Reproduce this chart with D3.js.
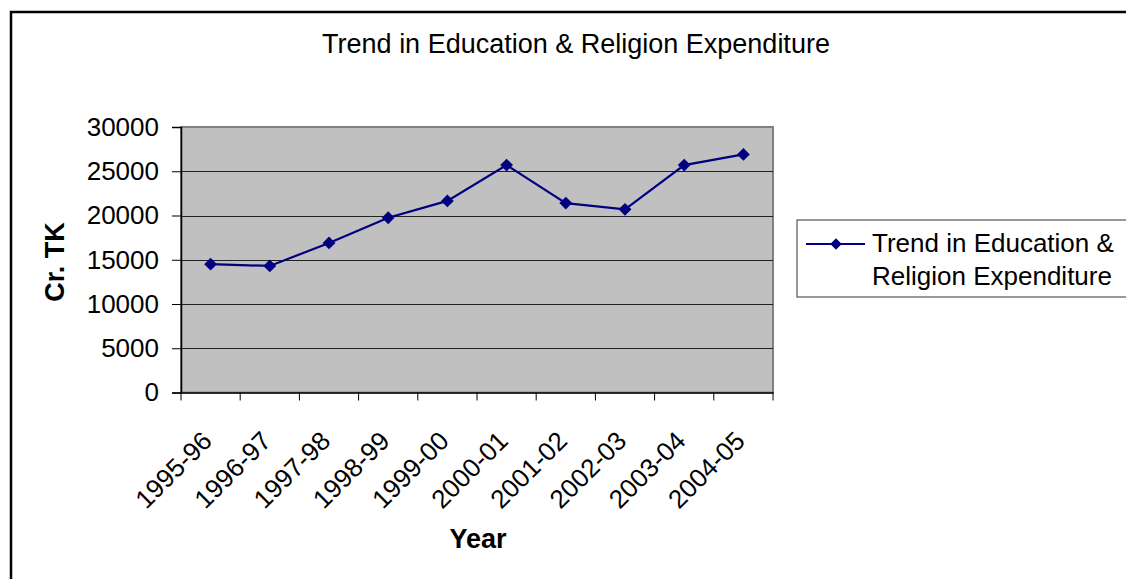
<!DOCTYPE html>
<html>
<head>
<meta charset="utf-8">
<script src="https://cdnjs.cloudflare.com/ajax/libs/d3/7.8.5/d3.min.js"></script>
<style>
  html, body { margin: 0; padding: 0; background: #fff; }
  svg { display: block; font-family: "Liberation Sans", Arial, sans-serif; }
</style>
</head>
<body>
<svg id="chart" width="1126" height="579"></svg>
<script>
// Fiscal years
const years = ["1995-96", "1996-97", "1997-98", "1998-99", "1999-00",
               "2000-01", "2001-02", "2002-03", "2003-04", "2004-05"];
// Education & religion expenditure, crore taka
const expenditure = [14500, 14300, 16900, 19750, 21650,
                     25700, 21400, 20700, 25700, 26900];
const yTicks = [0, 5000, 10000, 15000, 20000, 25000, 30000];
const seriesName = "Trend in Education & Religion Expenditure";
const legendLines = ["Trend in Education &", "Religion Expenditure"];

const svg = d3.select("#chart");

// outer frame of the chart area
svg.append("rect")
  .attr("x", 11).attr("y", 12)
  .attr("width", 1300).attr("height", 1000)
  .attr("fill", "none").attr("stroke", "#000").attr("stroke-width", 2.5);

const plot = { left: 181, top: 127, right: 773, bottom: 392.5 };

const x = d3.scaleBand().domain(years).range([plot.left, plot.right]).padding(0);
const y = d3.scaleLinear().domain([0, 30000]).range([plot.bottom, plot.top]);

// plot background
svg.append("rect")
  .attr("x", plot.left).attr("y", plot.top)
  .attr("width", plot.right - plot.left).attr("height", plot.bottom - plot.top)
  .attr("fill", "#c0c0c0").attr("stroke", "#808080").attr("stroke-width", 2);

// horizontal gridlines
svg.append("g")
  .selectAll("line")
  .data(yTicks.filter(d => d > 0 && d < 30000))
  .join("line")
  .attr("x1", plot.left).attr("x2", plot.right)
  .attr("y1", d => Math.round(y(d)) + 0.5).attr("y2", d => Math.round(y(d)) + 0.5)
  .attr("stroke", "#222").attr("stroke-width", 1);

// y axis
const yAxis = svg.append("g")
  .attr("transform", `translate(${plot.left},0)`)
  .call(d3.axisLeft(y).tickValues(yTicks).tickFormat(d3.format("d")).tickSize(9).tickPadding(13));
yAxis.select(".domain").attr("stroke", "#000").attr("stroke-width", 1.5);
yAxis.selectAll(".tick line").attr("stroke", "#000");
yAxis.selectAll(".tick text")
  .attr("font-size", 26).attr("fill", "#000")
  .attr("font-family", "Liberation Sans, Arial, sans-serif");

// x axis with ticks at category boundaries
const xAxis = svg.append("g")
  .attr("transform", `translate(0,${plot.bottom})`)
  .call(d3.axisBottom(x).tickSize(0).tickFormat(""));
xAxis.select(".domain").attr("stroke", "#000").attr("stroke-width", 1.5);
const boundaries = years.map(d => x(d)).concat([x(years[years.length - 1]) + x.bandwidth()]);
xAxis.selectAll("line.bound")
  .data(boundaries)
  .join("line")
  .attr("class", "bound")
  .attr("x1", d => d).attr("x2", d => d)
  .attr("y1", 0).attr("y2", 8)
  .attr("stroke", "#000").attr("stroke-width", 1);

// rotated category labels
svg.append("g")
  .selectAll("text")
  .data(years)
  .join("text")
  .attr("transform", d => `translate(${x(d) + x.bandwidth() / 2 + 3},${plot.bottom + 50}) rotate(-45)`)
  .attr("text-anchor", "end")
  .attr("font-size", 26)
  .attr("fill", "#000")
  .text(d => d);

// series line
const line = d3.line()
  .x((d, i) => x(years[i]) + x.bandwidth() / 2)
  .y(d => y(d));
svg.append("path")
  .datum(expenditure)
  .attr("d", line)
  .attr("fill", "none")
  .attr("stroke", "#000080")
  .attr("stroke-width", 2.2);

// diamond markers
const diamond = d3.symbol().type(d3.symbolDiamond2).size(105);
svg.append("g")
  .selectAll("path")
  .data(expenditure)
  .join("path")
  .attr("transform", (d, i) => `translate(${x(years[i]) + x.bandwidth() / 2},${y(d)})`)
  .attr("d", diamond)
  .attr("fill", "#000080");

// title
svg.append("text")
  .attr("x", 576).attr("y", 53)
  .attr("text-anchor", "middle")
  .attr("font-size", 27)
  .text(seriesName);

// axis titles
svg.append("text")
  .attr("x", (plot.left + plot.right) / 2 + 1).attr("y", 548)
  .attr("text-anchor", "middle")
  .attr("font-size", 27).attr("font-weight", "bold")
  .text("Year");

svg.append("text")
  .attr("transform", `translate(64,262) rotate(-90)`)
  .attr("text-anchor", "middle")
  .attr("font-size", 27).attr("font-weight", "bold")
  .text("Cr. TK");

// legend
const legend = svg.append("g");
legend.append("rect")
  .attr("x", 797).attr("y", 220)
  .attr("width", 400).attr("height", 77)
  .attr("fill", "#fff").attr("stroke", "#555").attr("stroke-width", 1.2);
legend.append("line")
  .attr("x1", 806).attr("x2", 865).attr("y1", 244).attr("y2", 244)
  .attr("stroke", "#000080").attr("stroke-width", 2.2);
legend.append("path")
  .attr("transform", "translate(836,244)")
  .attr("d", d3.symbol().type(d3.symbolDiamond2).size(85))
  .attr("fill", "#000080");
legend.selectAll("text.entry")
  .data(legendLines)
  .join("text")
  .attr("class", "entry")
  .attr("x", 872)
  .attr("y", (d, i) => 252 + i * 32.5)
  .attr("font-size", 26)
  .text(d => d);
</script>
</body>
</html>
